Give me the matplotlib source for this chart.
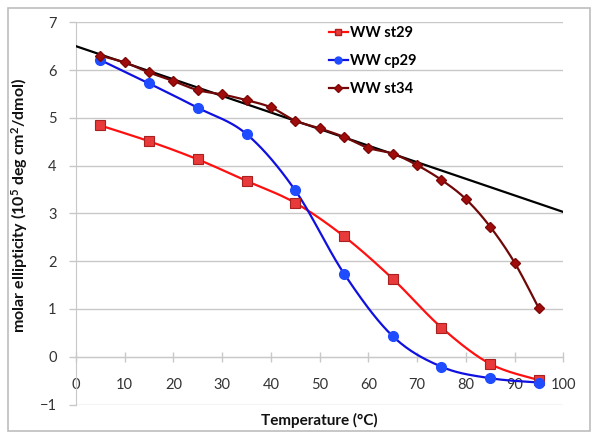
import numpy as np
import matplotlib
matplotlib.use("Agg")
import matplotlib.pyplot as plt
from matplotlib.patches import Rectangle

# ---- data ----
x_st29 = [5, 15, 25, 35, 45, 55, 65, 75, 85, 95]
y_st29 = [4.84, 4.51, 4.13, 3.68, 3.22, 2.52, 1.63, 0.61, -0.15, -0.49]
x_cp29 = [5, 15, 25, 35, 45, 55, 65, 75, 85, 95]
y_cp29 = [6.21, 5.72, 5.21, 4.66, 3.48, 1.74, 0.43, -0.21, -0.45, -0.54]
x_st34 = [5, 10, 15, 20, 25, 30, 35, 40, 45, 50, 55, 60, 65, 70, 75, 80, 85, 90, 95]
y_st34 = [6.30, 6.16, 5.95, 5.77, 5.58, 5.49, 5.37, 5.22, 4.94, 4.78, 4.60, 4.37,
          4.25, 4.01, 3.70, 3.30, 2.72, 1.97, 1.01]
x_fit = [0, 100]
y_fit = [6.50, 3.03]
labels = ["WW st29", "WW cp29", "WW st34"]
x_ticks = [0, 10, 20, 30, 40, 50, 60, 70, 80, 90, 100]
y_ticks = [-1, 0, 1, 2, 3, 4, 5, 6, 7]

plt.rcParams['font.family'] = ['Lato', 'DejaVu Sans']
plt.rcParams['mathtext.fontset'] = 'custom'
plt.rcParams['mathtext.rm'] = 'Lato:bold'
plt.rcParams['mathtext.bf'] = 'Lato:bold'
plt.rcParams['mathtext.it'] = 'Lato:bold'


def smooth(xs, ys, n=30):
    """Excel-style smoothed line (Catmull-Rom Bezier through the points)."""
    p = np.column_stack([xs, ys]).astype(float)
    out = [p[0]]
    for i in range(len(p) - 1):
        p0 = p[i - 1] if i > 0 else p[i]
        p1 = p[i]
        p2 = p[i + 1]
        p3 = p[i + 2] if i + 2 < len(p) else p[i + 1]
        c1 = p1 + (p2 - p0) / 6.0
        c2 = p2 - (p3 - p1) / 6.0
        t = np.linspace(0, 1, n)[1:, None]
        b = ((1 - t) ** 3) * p1 + 3 * ((1 - t) ** 2) * t * c1 + 3 * (1 - t) * t ** 2 * c2 + t ** 3 * p2
        out.extend(b)
    out = np.array(out)
    return out[:, 0], out[:, 1]


fig = plt.figure(figsize=(6.0, 4.41), dpi=100)
ax = fig.add_axes([76 / 600, (441 - 404.5) / 441, 487.3 / 600, 382.2 / 441])

ax.set_xlim(0, 100)
ax.set_ylim(-1, 7)
ax.set_xticks(x_ticks)
ax.set_yticks(y_ticks)

grid_c = '#c8c8c8'
ax.grid(axis='y', color=grid_c, linewidth=1.0, zorder=0)
ax.set_axisbelow(True)
for s in ['top', 'right']:
    ax.spines[s].set_visible(False)
ax.spines['left'].set_color(grid_c)
ax.spines['bottom'].set_color(grid_c)
ax.spines['bottom'].set_position(('data', 0))

ax.tick_params(axis='x', direction='inout', length=7, width=1, color=grid_c,
               labelsize=10.5, labelcolor='#333333', pad=11.5)
ax.tick_params(axis='y', direction='out', length=5, width=1, color=grid_c,
               labelsize=10.5, labelcolor='#333333', pad=9)

# black linear fit
ax.plot(x_fit, y_fit, color='black', linewidth=1.6, zorder=3)

sx, sy = smooth(x_st29, y_st29)
ax.plot(sx, sy, color='#ff1010', linewidth=1.6, zorder=4)
ax.plot(x_st29, y_st29, linestyle='none', marker='s', markersize=6.5,
        markerfacecolor='#e83a3a', markeredgecolor='#a82020', markeredgewidth=0.8, zorder=5)

sx, sy = smooth(x_cp29, y_cp29)
ax.plot(sx, sy, color='#1010e0', linewidth=1.6, zorder=4)
ax.plot(x_cp29, y_cp29, linestyle='none', marker='o', markersize=7,
        markerfacecolor='#1f4cff', markeredgecolor='#1f4cff', zorder=5)

sx, sy = smooth(x_st34, y_st34)
ax.plot(sx, sy, color='#700808', linewidth=1.6, zorder=4)
ax.plot(x_st34, y_st34, linestyle='none', marker='D', markersize=5.5,
        markerfacecolor='#a00c0c', markeredgecolor='#800808', zorder=5)

# legend handles
h1, = ax.plot([], [], color='#ff1010', linewidth=1.6, marker='s', markersize=5,
              markerfacecolor='#e83a3a', markeredgecolor='#a82020')
h2, = ax.plot([], [], color='#1010e0', linewidth=1.6, marker='o', markersize=5,
              markerfacecolor='#1f4cff', markeredgecolor='#1f4cff')
h3, = ax.plot([], [], color='#700808', linewidth=1.6, marker='D', markersize=4,
              markerfacecolor='#a00c0c', markeredgecolor='#800808')
leg = ax.legend([h1, h2, h3], labels, loc='upper left', bbox_to_anchor=(0.519, 0.99),
                frameon=False, borderpad=0, borderaxespad=0, handlelength=1.3,
                handletextpad=0.15, labelspacing=0.95, prop={'weight': 'bold', 'size': 10.5})

ax.set_xlabel('Temperature (°C)', fontsize=11, fontweight='bold', color='#111111')
ax.xaxis.set_label_coords(0.5, -0.022)
ax.set_ylabel('molar ellipticity (10$^5$ deg cm$^2$/dmol)', fontsize=11.5,
              fontweight='bold', color='#111111')
ax.yaxis.set_label_coords(-0.094, 0.52)

fig.patches.append(Rectangle((8 / 600, 10 / 441), 582 / 600, 423 / 441,
                             transform=fig.transFigure, fill=False,
                             edgecolor='#bdbdbd', linewidth=1.2))

fig.savefig('out.png', dpi=100)
